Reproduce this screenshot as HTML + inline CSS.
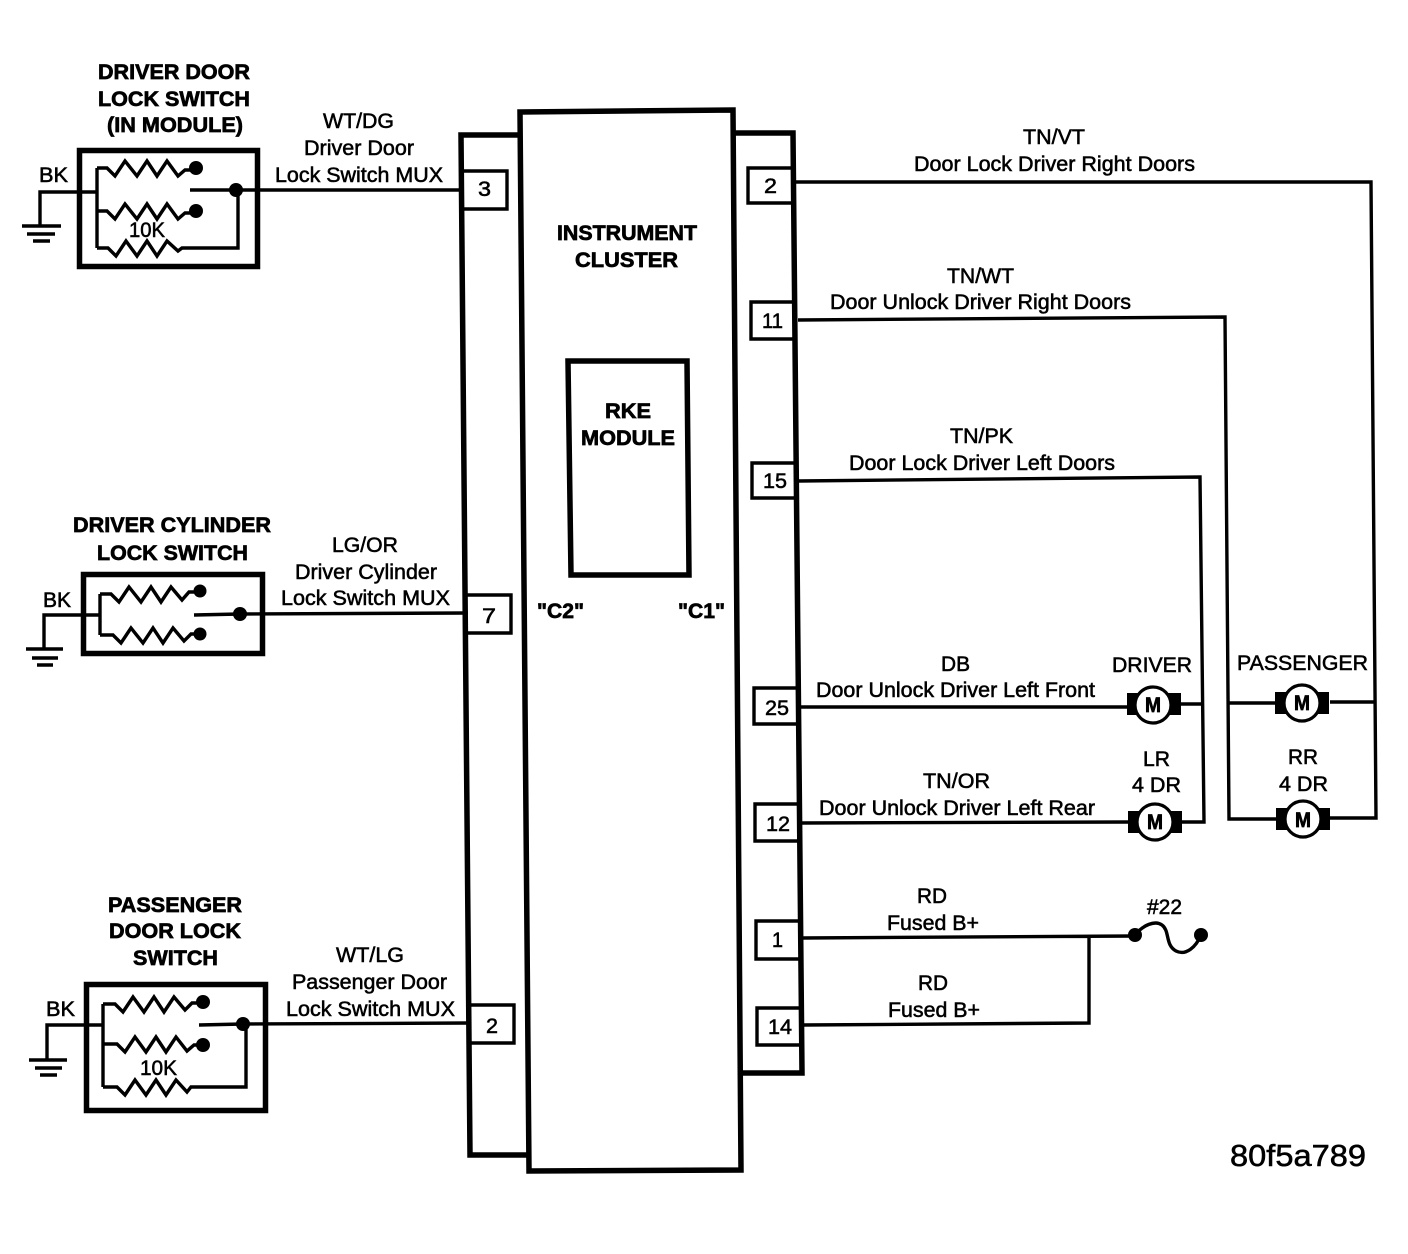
<!DOCTYPE html>
<html lang="en">
<head>
<meta charset="utf-8">
<title>Door lock wiring diagram</title>
<style>
html,body{margin:0;padding:0;background:#fff;width:1408px;height:1254px;overflow:hidden}
svg{display:block}
text{font-family:"Liberation Sans",Arial,sans-serif;font-size:21px;fill:#000;stroke:#000;stroke-width:.55px;transform:translateY(-.8px)}
text.b{font-weight:bold;stroke-width:.7px}
.w{fill:none;stroke:#000;stroke-width:3.4;stroke-linejoin:miter}
.t{fill:none;stroke:#000;stroke-width:5.5;stroke-linejoin:miter}
.m{fill:#fff;stroke:#000;stroke-width:3.2}
</style>
</head>
<body>
<svg width="1408" height="1254" viewBox="0 0 1408 1254" xmlns="http://www.w3.org/2000/svg">
<rect width="1408" height="1254" fill="#fff"/>

<!-- Instrument cluster and connectors -->
<path class="t" d="M520 112L733 110L741 1170L529 1171Z"/>
<path class="t" d="M520 135L461 135L470 1155L529 1155"/>
<path class="t" d="M735 133L793 133L802 1073L742 1073"/>
<path class="t" d="M568 361L687 361L689 575L571 575Z"/>
<text class="b" x="557" y="241" textLength="140" lengthAdjust="spacingAndGlyphs">INSTRUMENT</text>
<text class="b" x="575" y="268" textLength="103" lengthAdjust="spacingAndGlyphs">CLUSTER</text>
<text class="b" x="605" y="419" textLength="46" lengthAdjust="spacingAndGlyphs">RKE</text>
<text class="b" x="581" y="446" textLength="94" lengthAdjust="spacingAndGlyphs">MODULE</text>
<text class="b" x="537" y="619" textLength="47" lengthAdjust="spacingAndGlyphs">"C2"</text>
<text class="b" x="678" y="619" textLength="47" lengthAdjust="spacingAndGlyphs">"C1"</text>

<!-- Driver door switch -->
<text class="b" x="98" y="80" textLength="152" lengthAdjust="spacingAndGlyphs">DRIVER DOOR</text>
<text class="b" x="98" y="107" textLength="152" lengthAdjust="spacingAndGlyphs">LOCK SWITCH</text>
<text class="b" x="107" y="133" textLength="136" lengthAdjust="spacingAndGlyphs">(IN MODULE)</text>
<rect class="t" x="79.5" y="150.5" width="178" height="116"/>
<path class="w" d="M40 226V192H97M97 168V248"/>
<path class="w" d="M97 168H107L115 176L125 161L137 176L147 161L157 176L167 161L178 176L185 170H196"/>
<path class="w" d="M97 211H107L115 219L125 204L137 219L147 204L157 219L167 204L178 219L185 213H196"/>
<path class="w" d="M97 248H108L116 256L126 241L137 256L147 241L157 256L167 241L178 251L182 248H238V190"/>
<path class="w" d="M190 190H460"/>
<circle cx="196" cy="168" r="7"/><circle cx="196" cy="211" r="7"/><circle cx="236" cy="190" r="7"/>
<path class="w" d="M22 226H61M27 234H55M33 241H50"/>
<text x="39" y="183" textLength="29" lengthAdjust="spacingAndGlyphs">BK</text>
<text x="129" y="238" textLength="36" lengthAdjust="spacingAndGlyphs">10K</text>
<text x="323" y="129" textLength="71" lengthAdjust="spacingAndGlyphs">WT/DG</text>
<text x="304" y="156" textLength="110" lengthAdjust="spacingAndGlyphs">Driver Door</text>
<text x="275" y="183" textLength="168" lengthAdjust="spacingAndGlyphs">Lock Switch MUX</text>
<path class="w" d="M462 171H507V209H462"/>
<text x="478" y="197" textLength="13" lengthAdjust="spacingAndGlyphs">3</text>

<!-- Driver cylinder switch -->
<text class="b" x="73" y="533" textLength="198" lengthAdjust="spacingAndGlyphs">DRIVER CYLINDER</text>
<text class="b" x="97" y="561" textLength="151" lengthAdjust="spacingAndGlyphs">LOCK SWITCH</text>
<rect class="t" x="83.5" y="574.5" width="179" height="79"/>
<path class="w" d="M44 650V615H100M100 594V635"/>
<path class="w" d="M100 594H111L119 602L129 587L141 602L151 587L161 602L171 587L182 600L189 592H200"/>
<path class="w" d="M100 635H113L121 643L131 628L143 643L153 628L163 643L173 628L184 641L191 634H200"/>
<path class="w" d="M194 615L240 614L468 613"/>
<circle cx="200" cy="591" r="6.5"/><circle cx="200" cy="634" r="6.5"/><circle cx="240" cy="614" r="7"/>
<path class="w" d="M26 649H63M32 658H58M37 665H53"/>
<text x="43" y="608" textLength="28" lengthAdjust="spacingAndGlyphs">BK</text>
<text x="332" y="553" textLength="66" lengthAdjust="spacingAndGlyphs">LG/OR</text>
<text x="295" y="580" textLength="142" lengthAdjust="spacingAndGlyphs">Driver Cylinder</text>
<text x="281" y="606" textLength="169" lengthAdjust="spacingAndGlyphs">Lock Switch MUX</text>
<path class="w" d="M466 595H511V633H466"/>
<text x="482" y="624" textLength="14" lengthAdjust="spacingAndGlyphs">7</text>

<!-- Passenger door switch -->
<text class="b" x="108" y="913" textLength="134" lengthAdjust="spacingAndGlyphs">PASSENGER</text>
<text class="b" x="109" y="939" textLength="132" lengthAdjust="spacingAndGlyphs">DOOR LOCK</text>
<text class="b" x="133" y="966" textLength="85" lengthAdjust="spacingAndGlyphs">SWITCH</text>
<rect class="t" x="86.5" y="984.5" width="179" height="126"/>
<path class="w" d="M47 1061V1025H103M103 1004V1087"/>
<path class="w" d="M103 1004H115L123 1012L133 997L144 1012L154 997L164 1012L174 997L185 1010L192 1003H203"/>
<path class="w" d="M103 1044H117L125 1052L135 1037L146 1052L156 1037L166 1052L176 1037L187 1051L194 1045H203"/>
<path class="w" d="M103 1087H117L125 1095L135 1080L146 1095L156 1080L166 1095L176 1080L187 1092L191 1087H246V1025"/>
<path class="w" d="M199 1025L243 1024L470 1023"/>
<circle cx="203" cy="1002" r="7"/><circle cx="203" cy="1045" r="7"/><circle cx="243" cy="1024" r="7"/>
<path class="w" d="M29 1060H67M35 1068H62M40 1075H57"/>
<text x="46" y="1017" textLength="29" lengthAdjust="spacingAndGlyphs">BK</text>
<text x="140" y="1076" textLength="37" lengthAdjust="spacingAndGlyphs">10K</text>
<text x="336" y="963" textLength="68" lengthAdjust="spacingAndGlyphs">WT/LG</text>
<text x="292" y="990" textLength="155" lengthAdjust="spacingAndGlyphs">Passenger Door</text>
<text x="286" y="1017" textLength="169" lengthAdjust="spacingAndGlyphs">Lock Switch MUX</text>
<path class="w" d="M471 1005H514V1043H471"/>
<text x="486" y="1034" textLength="12" lengthAdjust="spacingAndGlyphs">2</text>

<!-- Right connector boxes -->
<path class="w" d="M794 168H748V203H794"/>
<text x="764" y="194" textLength="13" lengthAdjust="spacingAndGlyphs">2</text>
<path class="w" d="M796 302H751V339H796"/>
<text x="762" y="329" textLength="21" lengthAdjust="spacingAndGlyphs">11</text>
<path class="w" d="M797 463H752V498H797"/>
<text x="763" y="489" textLength="24" lengthAdjust="spacingAndGlyphs">15</text>
<path class="w" d="M799 688H754V724H799"/>
<text x="765" y="716" textLength="24" lengthAdjust="spacingAndGlyphs">25</text>
<path class="w" d="M800 804H755V841H800"/>
<text x="766" y="832" textLength="24" lengthAdjust="spacingAndGlyphs">12</text>
<path class="w" d="M801 921H756V959H801"/>
<text x="772" y="948" textLength="11" lengthAdjust="spacingAndGlyphs">1</text>
<path class="w" d="M802 1008H757V1045H802"/>
<text x="768" y="1035" textLength="24" lengthAdjust="spacingAndGlyphs">14</text>

<!-- Right wires -->
<path class="w" d="M795 182H1371L1376 818H1330"/>
<path class="w" d="M798 320L1225 317L1229 819H1280"/>
<path class="w" d="M798 481L1200 477L1204 822H1180"/>
<path class="w" d="M799 707H1128M1180 704H1203"/>
<path class="w" d="M801 823L1130 822"/>
<path class="w" d="M1228 703H1276M1330 702H1375"/>
<path class="w" d="M802 938L1135 936M1089 937V1023L803 1025"/>

<text x="1023" y="145" textLength="62" lengthAdjust="spacingAndGlyphs">TN/VT</text>
<text x="914" y="172" textLength="281" lengthAdjust="spacingAndGlyphs">Door Lock Driver Right Doors</text>
<text x="947" y="284" textLength="67" lengthAdjust="spacingAndGlyphs">TN/WT</text>
<text x="830" y="310" textLength="301" lengthAdjust="spacingAndGlyphs">Door Unlock Driver Right Doors</text>
<text x="950" y="444" textLength="63" lengthAdjust="spacingAndGlyphs">TN/PK</text>
<text x="849" y="471" textLength="266" lengthAdjust="spacingAndGlyphs">Door Lock Driver Left Doors</text>
<text x="941" y="672" textLength="29" lengthAdjust="spacingAndGlyphs">DB</text>
<text x="816" y="698" textLength="279" lengthAdjust="spacingAndGlyphs">Door Unlock Driver Left Front</text>
<text x="923" y="789" textLength="67" lengthAdjust="spacingAndGlyphs">TN/OR</text>
<text x="819" y="816" textLength="276" lengthAdjust="spacingAndGlyphs">Door Unlock Driver Left Rear</text>
<text x="917" y="904" textLength="30" lengthAdjust="spacingAndGlyphs">RD</text>
<text x="887" y="931" textLength="92" lengthAdjust="spacingAndGlyphs">Fused B+</text>
<text x="918" y="991" textLength="30" lengthAdjust="spacingAndGlyphs">RD</text>
<text x="888" y="1018" textLength="92" lengthAdjust="spacingAndGlyphs">Fused B+</text>

<!-- Motors -->
<rect x="1127" y="693" width="54" height="22"/><circle class="m" cx="1153" cy="705" r="18"/>
<rect x="1128" y="811" width="54" height="22"/><circle class="m" cx="1155" cy="822" r="18"/>
<rect x="1275" y="692" width="54" height="22"/><circle class="m" cx="1302" cy="703" r="18"/>
<rect x="1276" y="808" width="54" height="22"/><circle class="m" cx="1303" cy="819" r="18"/>
<text class="b" x="1145" y="713" textLength="16" lengthAdjust="spacingAndGlyphs">M</text>
<text class="b" x="1147" y="830" textLength="16" lengthAdjust="spacingAndGlyphs">M</text>
<text class="b" x="1294" y="711" textLength="16" lengthAdjust="spacingAndGlyphs">M</text>
<text class="b" x="1295" y="828" textLength="16" lengthAdjust="spacingAndGlyphs">M</text>
<text x="1112" y="673" textLength="80" lengthAdjust="spacingAndGlyphs">DRIVER</text>
<text x="1143" y="767" textLength="27" lengthAdjust="spacingAndGlyphs">LR</text>
<text x="1132" y="793" textLength="49" lengthAdjust="spacingAndGlyphs">4 DR</text>
<text x="1237" y="671" textLength="131" lengthAdjust="spacingAndGlyphs">PASSENGER</text>
<text x="1288" y="765" textLength="30" lengthAdjust="spacingAndGlyphs">RR</text>
<text x="1279" y="792" textLength="49" lengthAdjust="spacingAndGlyphs">4 DR</text>

<!-- Fuse -->
<circle cx="1135" cy="935" r="7"/><circle cx="1201" cy="935" r="7"/>
<path class="w" d="M1135 935C1143 925 1155 920 1162 925C1170 931 1165 945 1176 951C1186 956 1196 947 1201 935"/>
<text x="1147" y="915" textLength="35" lengthAdjust="spacingAndGlyphs">#22</text>

<text x="1230" y="1167" textLength="136" lengthAdjust="spacingAndGlyphs" style="font-size:31px">80f5a789</text>
</svg>
</body>
</html>
